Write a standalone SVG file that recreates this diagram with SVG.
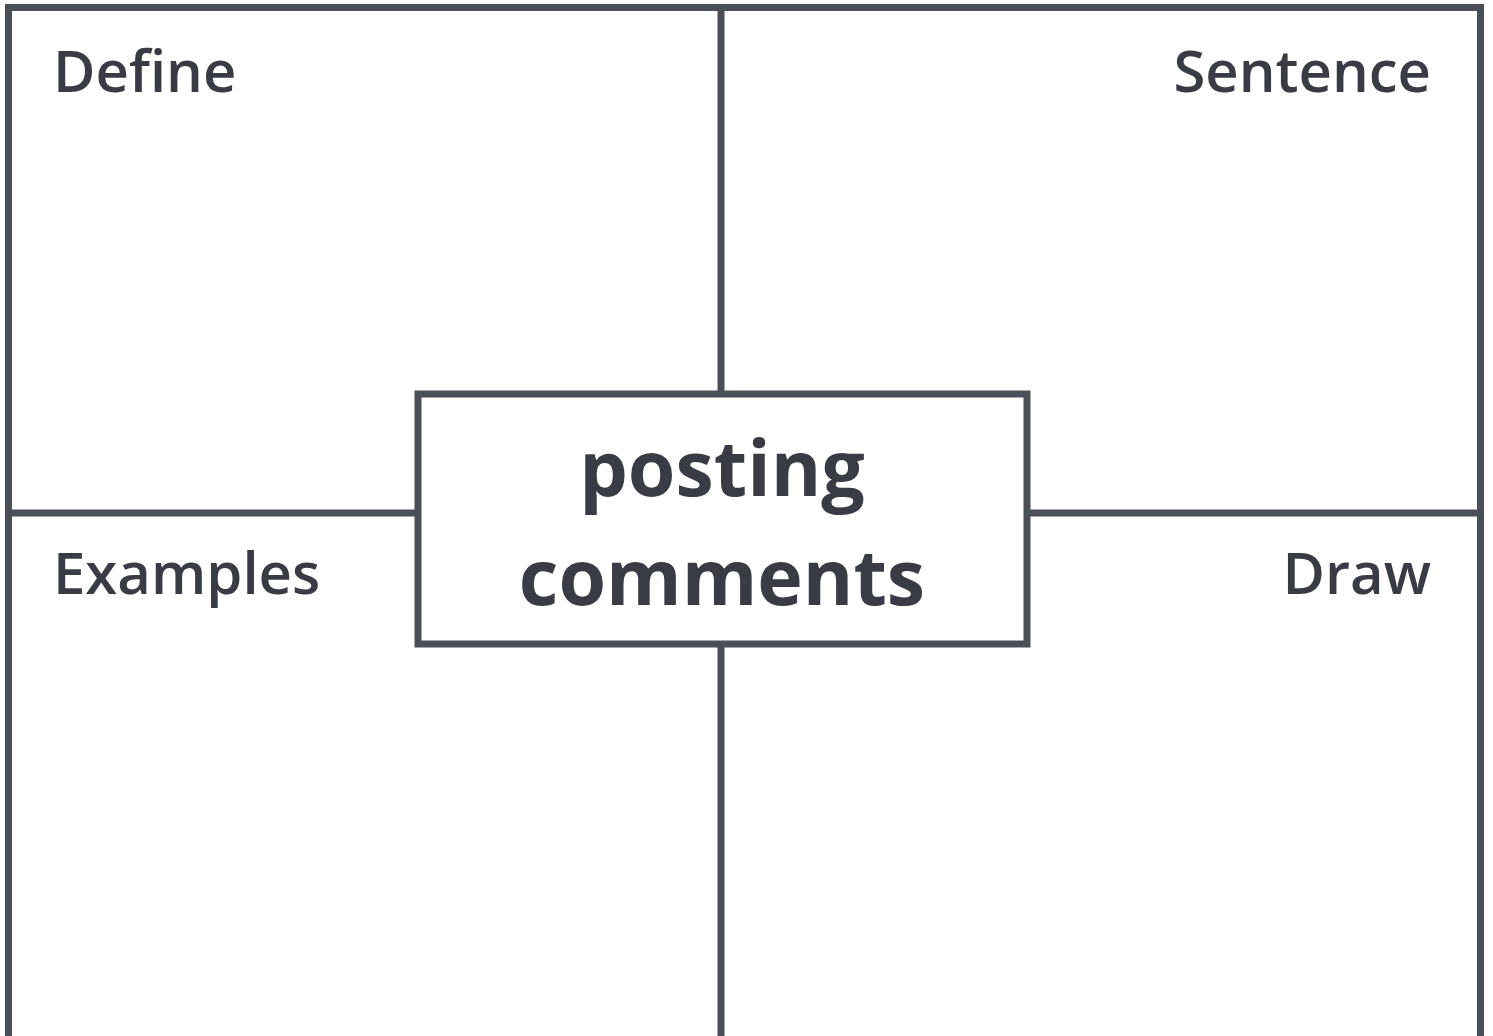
<svg xmlns="http://www.w3.org/2000/svg" width="1493" height="1036" viewBox="0 0 1493 1036">
<style>
.ln{stroke:#4b4f58;stroke-width:7;fill:none}
.lbl{font-family:"Open Sans",sans-serif;font-size:58px;font-weight:600;fill:#393c45}
.ttl{font-family:"Open Sans",sans-serif;font-size:77px;font-weight:bold;fill:#393c45;text-anchor:middle}
</style>
<rect width="1493" height="1036" fill="#ffffff"/>
<g id="connectors">
<rect class="ln" x="8.5" y="7.5" width="1472" height="1040"/>
<line class="ln" x1="721" y1="7" x2="721" y2="1040"/>
<line class="ln" x1="8" y1="513" x2="1481" y2="513"/>
</g>
<g id="define"><text class="lbl" x="53" y="92">Define</text></g>
<g id="sentence"><text class="lbl" x="1431" y="92" text-anchor="end">Sentence</text></g>
<g id="examples"><text class="lbl" x="53" y="594">Examples</text></g>
<g id="draw"><text class="lbl" x="1431" y="594" text-anchor="end">Draw</text></g>
<g id="center">
<rect class="ln" x="418" y="394" width="609" height="250" style="fill:#ffffff"/>
<text class="ttl" x="722" y="496">posting</text>
<text class="ttl" x="722" y="605">comments</text>
</g>
</svg>
